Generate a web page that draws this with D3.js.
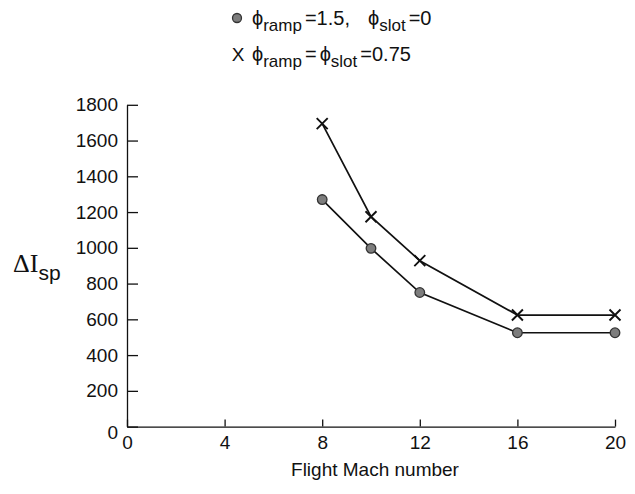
<!DOCTYPE html>
<html>
<head>
<meta charset="utf-8">
<script src="https://cdn.jsdelivr.net/npm/d3@7"></script>
<style>
  body { margin: 0; background: #fff; }
  svg text { fill: #111; }
</style>
</head>
<body>
<svg id="chart"></svg>
<script>
const w = 635,
      h = 494;
const sans = '"Liberation Sans", Arial, sans-serif',
      serif = '"Liberation Serif", "Times New Roman", serif';

const machNumbers = [8, 10, 12, 16, 20];
const ispRamp = [1270, 997, 750, 525, 525];   // phi_ramp=1.5, phi_slot=0
const ispBoth = [1695, 1174, 928, 624, 624];  // phi_ramp=phi_slot=0.75
const xTicks = [0, 4, 8, 12, 16, 20];
const yTicks = [0, 200, 400, 600, 800, 1000, 1200, 1400, 1600, 1800];

const svg = d3.select('#chart').attr('width', w).attr('height', h)
    .style('font-family', sans);

const x = d3.scaleLinear().domain([0, 20]).range([127, 615]);
const y = d3.scaleLinear().domain([0, 1800]).range([426.6, 104.8]);

// axes (ticks point inward)
const xAxis = svg.append('g').attr('transform', `translate(0,${y(0)})`)
    .call(d3.axisBottom(x).tickValues(xTicks).tickFormat(d3.format('d'))
      .tickSizeInner(-7).tickSizeOuter(0).tickPadding(9));
const yAxis = svg.append('g').attr('transform', `translate(${x(0)},0)`)
    .call(d3.axisLeft(y).tickValues(yTicks).tickFormat(d3.format('d'))
      .tickSizeInner(-11).tickSizeOuter(0).tickPadding(9));

[xAxis, yAxis].forEach(a => {
  a.attr('font-family', null).attr('font-size', null);
  a.select('.domain').attr('stroke', '#111').attr('stroke-width', 1.3);
  a.selectAll('.tick line').attr('stroke', '#111').attr('stroke-width', 1.3);
  a.selectAll('.tick text').style('font-size', '19px').style('font-family', sans).attr('fill', '#111');
});
// the 0 label on the y axis sits a little low, as in the original
yAxis.selectAll('.tick').filter(d => d === 0).select('text').attr('dy', '0.62em');

// axis titles
svg.append('text').attr('x', 375).attr('y', 476).attr('text-anchor', 'middle')
   .style('font-size', '19px').text('Flight Mach number');

const yl = svg.append('text').attr('x', 13).attr('y', 272)
   .style('font-family', serif).style('font-size', '26px');
yl.append('tspan').text('\u0394I');
yl.append('tspan').attr('dy', 8).style('font-family', sans).style('font-size', '21px').text('sp');

// lines
const line = d3.line().x(d => x(d[0])).y(d => y(d[1]));
const s1 = machNumbers.map((m, i) => [m, ispRamp[i]]);
const s2 = machNumbers.map((m, i) => [m, ispBoth[i]]);

svg.append('path').datum(s1).attr('d', line).attr('fill', 'none').attr('stroke', '#111').attr('stroke-width', 1.7);
svg.append('path').datum(s2).attr('d', line).attr('fill', 'none').attr('stroke', '#111').attr('stroke-width', 1.7);

// markers
svg.selectAll('circle.pt').data(s1).enter().append('circle').attr('class', 'pt')
   .attr('cx', d => x(d[0])).attr('cy', d => y(d[1])).attr('r', 4.8)
   .attr('fill', '#7d7d7d').attr('stroke', '#333').attr('stroke-width', 1.3);

const cross = (g, cx, cy, s) => {
  g.append('path')
   .attr('d', `M${cx - s},${cy - s}L${cx + s},${cy + s}M${cx + s},${cy - s}L${cx - s},${cy + s}`)
   .attr('stroke', '#111').attr('stroke-width', 1.9).attr('fill', 'none');
};
const xs = svg.append('g');
s2.forEach(d => cross(xs, x(d[0]), y(d[1]), 5.5));

// legend
const lg = svg.append('g');
lg.append('circle').attr('cx', 237).attr('cy', 18).attr('r', 4.5)
  .attr('fill', '#7d7d7d').attr('stroke', '#333').attr('stroke-width', 1.3);
lg.append('text').attr('x', 238).attr('y', 61).attr('text-anchor', 'middle').style('font-size', '19px').text('X');

const phi = '\u03D5';
const sub = (t, s) => t.append('tspan').attr('dy', 6).style('font-size', '17px').text(s);
const sup = (t, s, dx) => t.append('tspan').attr('dy', -6).attr('dx', dx || 0).text(s);

const t1 = lg.append('text').attr('x', 252).attr('y', 25).style('font-size', '20px');
t1.append('tspan').text(phi);
sub(t1, 'ramp');
sup(t1, '=1.5,', 3);
t1.append('tspan').attr('dx', 18).text(phi);
sub(t1, 'slot');
sup(t1, '=0', 3);

const t2 = lg.append('text').attr('x', 252).attr('y', 61).style('font-size', '20px');
t2.append('tspan').text(phi);
sub(t2, 'ramp');
sup(t2, '=', 3);
t2.append('tspan').attr('dx', 3).text(phi);
sub(t2, 'slot');
sup(t2, '=0.75', 3);
</script>
</body>
</html>
